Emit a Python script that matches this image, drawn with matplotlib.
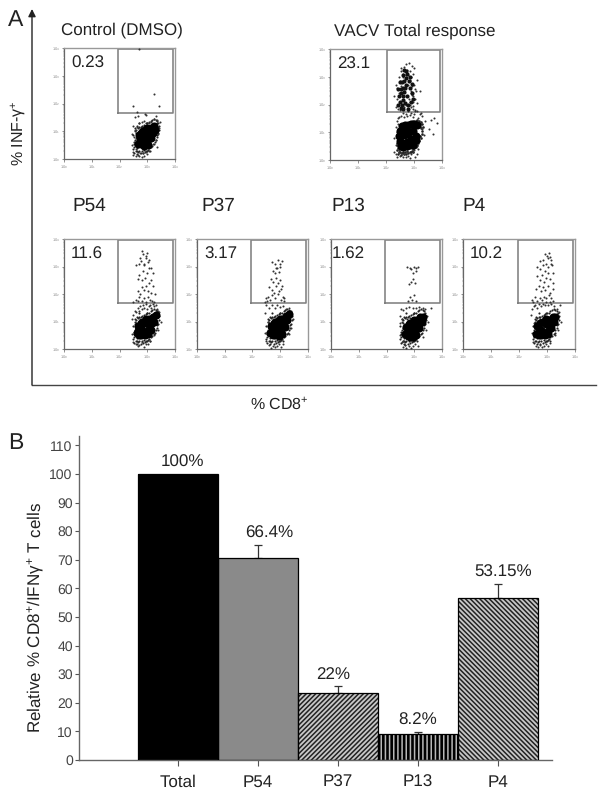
import numpy as np
import matplotlib
matplotlib.use("Agg")
import matplotlib.pyplot as plt
from matplotlib.ticker import NullFormatter

plt.rcParams.update({
    "font.family": ["Liberation Sans", "DejaVu Sans"],
    "mathtext.fontset": "custom",
    "mathtext.rm": "Liberation Sans",
    "mathtext.it": "Liberation Sans:italic",
    "mathtext.bf": "Liberation Sans:bold",
    "mathtext.default": "regular",
    "hatch.linewidth": 1.1,
    "text.hinting": "no_hinting",
    "text.hinting_factor": 1,
})

# ---- Panel B data ----
categories = ["Total", "P54", "P37", "P13", "P4"]
relative = [100, 70.5, 23.5, 9, 56.7]
errors = [0, 4.6, 2.4, 0.9, 5.0]
bar_labels = ["100%", "66.4%", "22%", "8.2%", "53.15%"]
hatches = [None, "xxxxxxxxxxxxxx", "///////", "||||", "\\\\\\\\\\\\\\"]
fills = ["black", "#a4a4a4", "#c8c8c8", "black", "#c8c8c8"]
hatch_colors = ["black", "#8a8a8a", "#222222", "#b8b8b8", "#222222"]
yticks = list(range(0, 111, 10))

# ---- Panel A data (log10 decades) ----
panel_names = ["Control (DMSO)", "VACV Total response", "P54", "P37", "P13", "P4"]
gate_percent = ["0.23", "23.1", "11.6", "3.17", "1.62", "10.2"]

ctrl_core_x = [2.68,2.72,2.78,2.82,2.86,2.9,2.94,3.0,3.04,3.08,3.14,3.2,3.24,3.27,2.74,2.9,3.02,3.15,2.78,2.98]
ctrl_core_y = [0.55,0.85,0.55,0.78,1.0,0.58,0.8,0.6,1.0,0.8,1.1,0.95,1.18,1.05,0.68,0.48,0.5,0.75,0.95,1.1]
ctrl_fringe_x = [2.45,2.5,2.52,2.55,2.58,2.6,2.65,2.7,2.75,2.8,2.85,2.9,2.95,3.0,3.05,3.1,2.5,2.56,2.62,3.2,3.3,3.38,3.42,3.35,3.45,3.25,3.15,3.05,2.7,2.8,2.9,2.45,2.48,3.35,2.68,2.55,2.92,2.96,3.3]
ctrl_fringe_y = [0.5,0.25,0.8,1.05,0.1,0.35,0.15,0.1,0.22,0.08,0.2,0.1,0.25,0.18,0.3,0.42,1.2,0.6,1.15,0.55,0.7,0.9,1.1,1.4,1.35,1.45,1.35,1.3,1.28,1.32,1.36,0.9,0.15,0.45,1.55,1.5,1.63,1.6,1.55]
ctrl_gated_x = [2.5, 3.25, 3.42, 2.7, 2.62]
ctrl_gated_y = [1.9, 2.35, 1.92, 3.97, 1.7]

vacv_core_x = [2.5,2.58,2.66,2.74,2.82,2.9,2.98,3.06,3.1,2.5,2.58,2.68,2.78,2.88,3.0,3.08,2.52,2.62,2.74,2.86,2.48,2.6,2.76,2.96,2.98]
vacv_core_y = [0.7,0.6,0.9,0.65,1.0,0.75,1.05,0.85,1.25,1.05,1.22,1.25,1.25,1.28,1.28,0.72,0.5,0.48,0.5,0.55,0.88,1.1,0.95,0.55,1.28]
vacv_upper_x = [2.42,2.5,2.56,2.62,2.68,2.46,2.54,2.6,2.66,2.52,2.6,2.68,2.58,2.66,2.72,2.54,2.62,2.76,2.8,2.7,2.6,2.88,2.94,2.86,2.82,2.92,2.76,2.5,2.44,2.96,2.72,2.64,2.84,2.78]
vacv_upper_y = [2.0,2.1,2.0,2.15,2.05,2.3,2.4,2.3,2.45,2.55,2.6,2.6,2.8,2.85,2.7,1.88,1.85,2.3,2.0,2.95,3.05,2.1,2.4,2.6,2.85,2.75,3.1,2.8,2.55,2.2,3.2,3.25,3.0,1.85]
vacv_fringe_x = [2.3,2.35,2.4,2.45,2.5,2.55,2.6,2.65,2.7,2.75,2.8,2.85,2.9,2.95,3.0,3.05,3.1,3.15,2.3,2.35,2.38,2.42,2.48,2.55,2.6,2.65,2.7,2.75,2.8,2.85,2.9,2.95,3.0,2.35,2.42,2.5,2.58,2.64,2.7,2.78,2.84,2.9,2.98,3.05,3.12,3.2,3.26,2.3,2.38,2.45,2.55,2.62,2.72,2.8,2.88,2.95,3.02,3.1,2.4,2.5,2.6,2.7,2.78,2.86,2.94,3.02,2.55,2.65,2.75,2.85,2.95,2.72,2.82,2.92,3.0,3.12,3.2,3.3,3.4,3.62,3.72,3.82,3.55,3.68,3.1,3.2,3.3,2.35,2.45,2.55,2.65,2.75,2.85,2.95,3.05,3.15,3.25,3.35,2.82,2.88,2.94,3.0,3.06,2.84,2.9,2.96,2.38,2.42,2.46,2.36,2.44]
vacv_fringe_y = [0.3,0.2,0.12,0.3,0.15,0.25,0.1,0.2,0.1,0.28,0.15,0.08,0.22,0.3,0.35,0.12,0.5,0.38,0.8,1.2,1.4,1.5,1.55,1.6,1.7,1.55,1.65,1.6,1.75,1.62,1.7,1.55,1.65,1.9,1.85,1.8,1.95,1.9,2.0,1.85,2.0,1.9,1.95,1.8,1.75,1.65,1.7,2.3,2.2,2.4,2.65,3.0,3.05,2.7,2.4,2.3,2.2,2.05,2.6,2.85,3.1,3.2,3.05,2.9,2.65,2.55,3.3,3.35,3.25,3.2,3.1,3.45,3.5,3.4,3.3,2.9,2.5,1.6,1.4,1.45,1.5,1.35,1.1,0.95,0.2,1.3,1.1,2.7,3.0,3.2,2.5,2.3,2.1,1.85,1.78,1.5,1.2,0.9,2.2,2.5,2.35,2.7,2.5,2.85,3.0,2.1,1.0,0.65,0.35,0.55,1.3]

p54_core_x = [2.62,2.66,2.72,2.78,2.84,2.9,2.96,3.02,3.08,3.14,3.2,3.26,3.3,2.68,2.78,2.92,3.04,3.14,2.76,2.96]
p54_core_y = [0.6,0.85,0.5,0.75,1.0,0.6,0.95,0.7,1.1,0.9,1.18,1.0,1.22,0.65,0.52,0.5,0.55,0.7,0.95,1.1]
p54_fringe_x = [2.45,2.5,2.55,2.6,2.65,2.72,2.8,2.88,2.95,3.02,3.1,3.25,3.4,3.48,3.42,2.45,2.5,2.55,2.6,2.65,2.7,2.75,2.8,2.85,2.9,2.95,3.0,3.05,3.1,3.15,3.2,3.25,3.3,3.35,2.5,2.58,2.65,2.72,2.8,2.88,2.95,3.02,3.1,3.18,3.25,2.68,2.75,2.82,2.88,2.95,3.02,3.08,3.14,2.65,2.72,2.8,2.85,2.92,3.0,3.06,3.12,3.2,2.6,2.7,2.78,2.88,2.96,3.04,3.12,3.22,2.75,2.85,2.95,3.05,3.0,2.9,2.8,3.28,3.38]
p54_fringe_y = [0.55,0.25,0.9,0.2,0.1,0.15,0.25,0.08,0.18,0.2,0.3,0.5,0.7,1.0,1.35,1.1,1.25,1.4,1.35,1.5,1.4,1.55,1.45,1.6,1.5,1.62,1.45,1.55,1.6,1.5,1.65,1.55,1.6,1.45,1.7,1.8,1.75,1.9,1.75,1.85,1.7,1.9,1.8,1.75,1.72,2.1,2.0,2.25,2.15,2.3,2.1,2.4,2.05,2.55,2.7,2.5,2.85,2.6,2.75,2.95,2.5,2.3,3.05,3.1,3.2,3.05,3.3,3.15,2.95,2.75,3.3,3.45,3.4,3.25,3.5,3.1,3.55,2.0,1.4]

p37_core_x = [2.64,2.68,2.74,2.8,2.84,2.9,2.96,3.02,3.08,3.14,3.2,3.26,3.3,2.72,2.82,2.94,3.06,3.16,2.78,2.98]
p37_core_y = [0.6,0.85,0.52,0.75,1.0,0.6,0.9,0.7,1.1,0.95,1.2,1.05,1.26,0.65,0.5,0.48,0.55,0.8,0.95,1.1]
p37_fringe_x = [2.45,2.5,2.55,2.6,2.68,2.75,2.82,2.9,2.96,3.02,3.1,3.3,3.4,3.45,3.38,2.45,2.48,2.52,2.6,2.7,2.8,2.9,3.0,3.1,3.2,3.3,2.45,2.5,2.55,2.62,2.72,2.82,2.92,3.02,3.12,2.6,2.7,2.78,2.86,2.94,3.02,3.1,2.65,2.75,2.85,2.92,3.0,3.08,2.75,2.82,2.88,2.94,3.0,2.72,2.8,2.86,2.92,2.98,3.05,3.15]
p37_fringe_y = [0.6,0.3,1.0,0.15,0.05,0.12,0.06,0.1,0.2,0.08,0.18,0.55,0.75,1.1,1.4,1.3,1.6,1.75,1.5,1.6,1.5,1.6,1.52,1.58,1.45,1.5,1.7,1.85,1.9,1.8,1.95,1.85,2.0,1.8,1.75,2.25,2.15,2.05,2.3,2.1,2.2,1.9,2.55,2.45,2.6,2.4,2.5,2.3,2.85,2.75,2.95,2.8,3.0,3.15,3.1,2.95,3.25,3.1,3.2,1.85]

p13_core_x = [2.66,2.7,2.76,2.82,2.86,2.92,2.98,3.04,3.1,3.16,3.22,3.28,3.32,2.74,2.84,2.96,3.08,3.18,2.8,3.0]
p13_core_y = [0.55,0.8,0.48,0.7,0.95,0.55,0.85,0.65,1.05,0.9,1.15,1.0,1.18,0.6,0.45,0.45,0.5,0.75,0.9,1.05]
p13_fringe_x = [2.5,2.55,2.6,2.66,2.72,2.8,2.88,2.96,3.04,3.12,3.3,3.42,3.5,3.46,3.38,2.5,2.52,2.6,2.7,2.82,2.94,3.06,3.18,3.3,3.6,2.78,2.85,2.92,3.0,3.08,2.8,2.88,2.95,3.02,2.88,2.95,3.05,2.75,2.85,2.98,3.08,3.15,2.5,2.55,2.6,2.65]
p13_fringe_y = [0.5,0.25,0.08,0.15,0.05,0.12,0.05,0.1,0.18,0.12,0.45,0.7,1.0,1.2,1.45,1.2,1.45,1.42,1.5,1.52,1.48,1.5,1.52,1.48,1.5,1.75,1.9,1.8,1.95,1.75,2.35,2.45,2.55,2.4,2.9,2.75,2.85,3.0,2.95,3.0,2.95,2.98,0.95,1.1,0.3,0.15]

p4_core_x = [2.62,2.66,2.72,2.78,2.84,2.9,2.96,3.02,3.08,3.14,3.2,3.26,3.3,2.68,2.78,2.92,3.04,3.14,2.76,2.96]
p4_core_y = [0.55,0.85,0.5,0.7,1.0,0.6,0.9,0.65,1.05,0.9,1.15,1.0,1.18,0.6,0.52,0.5,0.55,0.75,0.95,1.1]
p4_fringe_x = [2.45,2.5,2.55,2.6,2.68,2.75,2.82,2.9,2.98,3.05,3.12,3.28,3.4,3.5,3.42,2.42,2.46,2.52,2.58,2.64,2.72,2.8,2.86,2.92,2.98,3.04,3.1,3.16,3.25,3.35,2.45,2.5,2.58,2.66,2.74,2.82,2.9,2.98,3.06,3.14,3.22,2.6,2.7,2.78,2.86,2.94,3.02,3.1,3.2,2.65,2.74,2.82,2.9,2.96,3.04,3.12,3.2,2.66,2.76,2.86,2.94,3.04,3.14,3.22,2.75,2.85,2.95,3.05,3.1,3.18,2.92,3.0,3.08,3.16,3.48]
p4_fringe_y = [0.6,0.25,0.95,0.12,0.08,0.16,0.06,0.12,0.2,0.1,0.22,0.5,0.7,1.0,1.35,1.25,1.45,1.55,1.6,1.5,1.62,1.55,1.65,1.6,1.7,1.6,1.7,1.62,1.55,1.45,1.8,1.7,1.9,1.75,1.85,1.78,1.9,1.85,1.95,1.85,1.75,2.2,2.3,2.1,2.25,2.15,2.3,2.05,2.2,2.65,2.5,2.7,2.45,2.6,2.75,2.55,2.4,3.0,2.9,3.05,2.85,3.0,3.1,2.75,3.2,3.25,3.1,3.3,3.35,3.05,3.45,3.4,3.5,3.25,1.6]

# loose events hugging the main population, much the same in each lower panel
halo_x = [2.5,2.52,2.55,2.5,2.56,2.54,2.58,2.52,2.6,2.58,2.62,2.64,2.6,2.68,2.72,2.76,2.8,2.84,2.88,2.92,2.96,3.0,3.04,3.08,3.12,3.18,3.24,3.3,3.36,3.4,3.42,3.44,3.4,3.36,3.3,3.24,3.18,3.12,3.06,3.0,2.94,2.88,2.82,2.76,2.7,2.66,2.62,2.56,2.54,3.38,3.34,3.28,3.22,2.74,2.86,2.98,3.1,2.64,2.72,3.34]
halo_y = [0.35,0.55,0.7,0.85,1.0,0.45,0.95,0.62,1.05,0.3,0.28,0.18,0.75,0.24,0.3,0.2,0.3,0.22,0.32,0.25,0.3,0.28,0.34,0.38,0.42,0.48,0.55,0.68,0.78,0.92,1.05,1.2,1.3,1.38,1.42,1.44,1.42,1.38,1.32,1.3,1.28,1.22,1.2,1.15,1.15,1.12,1.18,1.1,0.22,1.15,0.88,0.6,0.72,1.08,1.14,1.3,0.28,0.4,1.3,1.28]

core_x = [ctrl_core_x, vacv_core_x, p54_core_x, p37_core_x, p13_core_x, p4_core_x]
core_y = [ctrl_core_y, vacv_core_y, p54_core_y, p37_core_y, p13_core_y, p4_core_y]
fringe_x = [ctrl_fringe_x + ctrl_gated_x, vacv_fringe_x, p54_fringe_x, p37_fringe_x, p13_fringe_x, p4_fringe_x]
fringe_y = [ctrl_fringe_y + ctrl_gated_y, vacv_fringe_y, p54_fringe_y, p37_fringe_y, p13_fringe_y, p4_fringe_y]

# ---- Layout (pixels) ----
W, H = 604, 796
fig = plt.figure(figsize=(W / 100, H / 100), dpi=100)
def box(x0, y0, x1, y1):
    return [x0 / W, 1 - y1 / H, (x1 - x0) / W, (y1 - y0) / H]
def ptext(x, y, s, **kw):
    kw.setdefault("color", "#222222")
    kw.setdefault("va", "center")
    kw.setdefault("ha", "center")
    return fig.text(x / W, 1 - y / H, s, **kw)

panel_boxes = [(64,48,175,159),(330,49,442,160),(64,239,175,349),(197,239,308,349),(331,239,442,349),(463,239,575,349)]
gates = [(1.93,1.66),(2.03,1.73),(1.95,1.67),(1.95,1.67),(1.95,1.67),(1.95,1.67)]
title_xy = [(61,30),(334,31),(72,206),(201,206),(331,206),(462,206)]

for i in range(6):
    ax = fig.add_axes(box(*panel_boxes[i]))
    ax.set_xscale("log"); ax.set_yscale("log")
    ax.set_xlim(1, 1e4); ax.set_ylim(1, 1e4)
    ax.scatter(10 ** np.array(core_x[i]), 10 ** np.array(core_y[i]), s=34,
               c="black", linewidths=0, zorder=4)
    if i == 1:
        ax.scatter(10 ** np.array(vacv_upper_x), 10 ** np.array(vacv_upper_y), s=9,
                   c="#111111", linewidths=0, zorder=4)
        ax.scatter(10 ** (np.array(halo_x) - 0.12), 10 ** np.array(halo_y), s=3.5,
                   c="#222222", linewidths=0, zorder=3)
    else:
        ax.scatter(10 ** np.array(halo_x), 10 ** np.array(halo_y), s=2.4,
                   c="#222222", linewidths=0, zorder=3)
    ax.scatter(10 ** np.array(fringe_x[i]), 10 ** np.array(fringe_y[i]), s=2.2,
               c="#333333", linewidths=0, zorder=3)
    gx, gy = gates[i]
    ax.plot(10 ** np.array([gx, gx, 3.93, 3.93, gx]), 10 ** np.array([gy, 3.95, 3.95, gy, gy]),
            color="#808080", lw=1.15, zorder=2)
    for s in ("top", "right"):
        ax.spines[s].set_color("#999999"); ax.spines[s].set_linewidth(1.0)
    for s in ("left", "bottom"):
        ax.spines[s].set_color("#666666"); ax.spines[s].set_linewidth(0.9)
    ax.tick_params(which="major", length=1.8, width=0.5, color="#666666", labelsize=3.2,
                   labelcolor="#888888", pad=1)
    ax.tick_params(which="minor", length=1.0, width=0.3, color="#777777")
    ax.xaxis.set_minor_formatter(NullFormatter()); ax.yaxis.set_minor_formatter(NullFormatter())
    ax.set_xticks([1, 10, 100, 1000, 10000]); ax.set_yticks([1, 10, 100, 1000, 10000])
    ax.patch.set_alpha(0)
    ptext(panel_boxes[i][0] + (7 if i != 4 else 1), panel_boxes[i][1] + 15, gate_percent[i], ha="left", fontsize=12)
    ptext(title_xy[i][0], title_xy[i][1], panel_names[i], ha="left", fontsize=12.4 if i < 2 else 14)

# big axes arrows of panel A
overlay = fig.add_axes([0, 0, 1, 1]); overlay.set_xlim(0, W); overlay.set_ylim(H, 0); overlay.axis("off")
overlay.patch.set_alpha(0)
overlay.annotate("", xy=(32, 9), xytext=(32, 385), arrowprops=dict(arrowstyle="-|>", color="#222222", lw=1.0, mutation_scale=11, shrinkA=0, shrinkB=0))
overlay.plot([32, 596], [385, 385], color="#444444", lw=1.0)

ptext(16, 20, "A", fontsize=16.5)
ptext(16, 443, "B", fontsize=16.5)
ptext(18, 133, "% INF-$\\gamma^{+}$", rotation=90, fontsize=11.5)
ptext(279, 404, "% CD8$^{+}$", fontsize=11.8)

# ---- Panel B ----
axb = fig.add_axes(box(79, 436, 552, 760))
x = np.arange(len(categories))
for i in range(len(categories)):
    axb.bar(x[i], relative[i], width=1.0, facecolor=fills[i], edgecolor=hatch_colors[i],
            hatch=hatches[i], linewidth=0, zorder=2)
    axb.bar(x[i], relative[i], width=1.0, fill=False, edgecolor="black", linewidth=0.9, zorder=3)
    if errors[i]:
        axb.errorbar(x[i], relative[i], yerr=[[0], [errors[i]]], color="#333333", lw=0.9,
                     capsize=3, capthick=0.9, zorder=1)
axb.set_xlim(-1.2375, 4.675)
axb.set_ylim(0, 113.3)
axb.set_xticks(x); axb.set_xticklabels(categories, fontsize=12, color="#222222")
axb.set_yticks(yticks); axb.set_yticklabels([str(t) for t in yticks], fontsize=10, color="#444444")
axb.tick_params(axis="y", length=3, width=0.8, color="#555555", pad=1.5)
axb.tick_params(axis="x", length=4, width=0.8, color="#555555", pad=6.5)
for s in ("top", "right"):
    axb.spines[s].set_visible(False)
for s in ("left", "bottom"):
    axb.spines[s].set_color("#666666"); axb.spines[s].set_linewidth(1.0)
axb.patch.set_alpha(0)
label_tops = [relative[i] + errors[i] for i in range(len(categories))]
label_dx = [0.05, 0.14, -0.06, 0.0, 0.06]
for i in range(len(categories)):
    axb.annotate(bar_labels[i], (x[i] + label_dx[i], label_tops[i]), xytext=(0, 2.5),
                 textcoords="offset points", ha="center", va="bottom", fontsize=12, color="#222222")
ptext(36, 618, "Relative % CD8$^{+}$/IFN$\\gamma^{+}$ T cells", rotation=90, fontsize=12)

fig.savefig("out.png", dpi=100)
